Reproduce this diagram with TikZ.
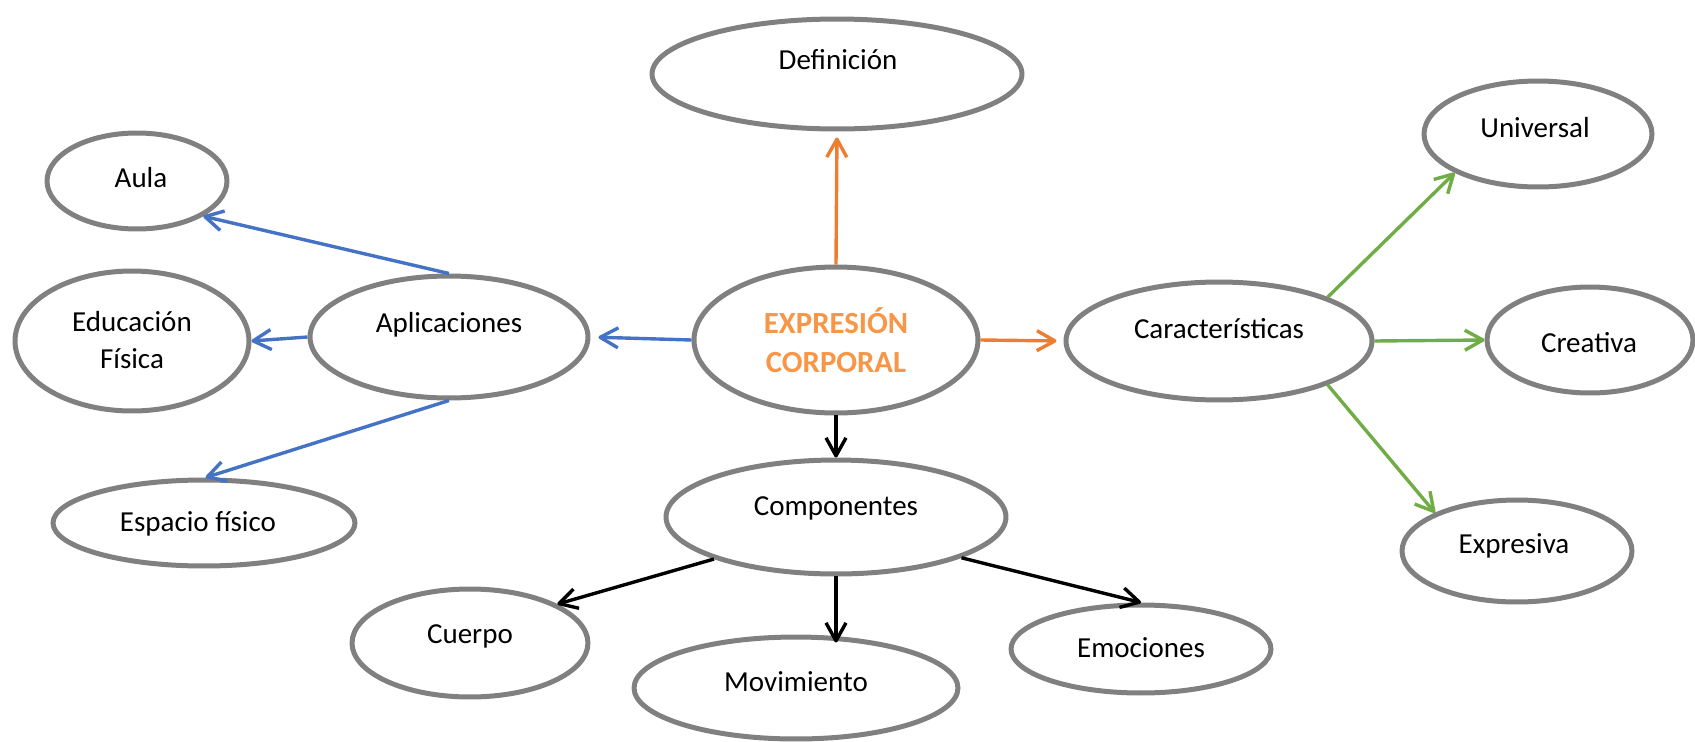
\documentclass[tikz,border=0pt]{standalone}
\usepackage{fontspec}
\setmainfont{Carlito}
\usetikzlibrary{shapes.geometric,arrows.meta}

\definecolor{gris}{HTML}{808080}
\definecolor{azul}{HTML}{4472C4}
\definecolor{naranja}{HTML}{ED7D31}
\definecolor{naranjaclaro}{HTML}{F79646}
\definecolor{verde}{HTML}{70AD47}

\tikzset{
    burbuja/.style={ellipse, draw=gris, line width=0.1cm, fill=white},
    etiqueta/.style={font=\fontsize{16.5}{21}\selectfont, align=center, inner sep=0pt},
    flecha/.style={line width=0.068cm, line join=round,
        -{Straight Barb[length=0.36cm, width=0.4cm, line join=round]}}
}

\begin{document}
\begin{tikzpicture}[x=0.02cm, y=-0.02cm]

    \useasboundingbox (0,0) rectangle (1695,741);

    % Pintamos las elipses
    \node[burbuja, minimum width=5.68cm, minimum height=2.92cm] (ec) at (836,340) {};
    \node[burbuja, minimum width=7.4cm, minimum height=2.2cm] (def) at (837,74) {};
    \node[burbuja, minimum width=5.56cm, minimum height=2.44cm] (apl) at (449,337) {};
    \node[burbuja, minimum width=3.6cm, minimum height=1.92cm] (aula) at (137,181) {};
    \node[burbuja, minimum width=4.68cm, minimum height=2.8cm] (educ) at (132,341) {};
    \node[burbuja, minimum width=6.04cm, minimum height=1.72cm] (esp) at (204,523) {};
    \node[burbuja, minimum width=6.12cm, minimum height=2.36cm] (car) at (1219,341) {};
    \node[burbuja, minimum width=4.56cm, minimum height=2.12cm] (univ) at (1538,134) {};
    \node[burbuja, minimum width=4.12cm, minimum height=2.12cm] (creat) at (1590,340) {};
    \node[burbuja, minimum width=4.6cm, minimum height=2.04cm] (expr) at (1517,551) {};
    \node[burbuja, minimum width=6.8cm, minimum height=2.28cm] (comp) at (836,517) {};
    \node[burbuja, minimum width=4.72cm, minimum height=2.16cm] (cuer) at (470,643) {};
    \node[burbuja, minimum width=6.48cm, minimum height=2.04cm] (mov) at (796,688) {};
    \node[burbuja, minimum width=5.2cm, minimum height=1.76cm] (emoc) at (1141,649) {};

    % Textos
    \node[etiqueta, text=naranjaclaro, font=\fontsize{17.5}{22}\selectfont\bfseries] (ec-t) at (836,340) {EXPRESIÓN\\CORPORAL};
    \node[etiqueta] (def-t) at (838,60) {Definición};
    \node[etiqueta] (apl-t) at (449,325) {Aplicaciones};
    \node[etiqueta] (aula-t) at (141,178) {Aula};
    \node[etiqueta] (educ-t) at (132,340) {Educación\\Física};
    \node[etiqueta] (esp-t) at (198,524) {Espacio físico};
    \node[etiqueta] (car-t) at (1219,329) {Características};
    \node[etiqueta] (univ-t) at (1535,128) {Universal};
    \node[etiqueta] (creat-t) at (1589,343) {Creativa};
    \node[etiqueta] (expr-t) at (1514,546) {Expresiva};
    \node[etiqueta] (comp-t) at (836,508) {Componentes};
    \node[etiqueta] (cuer-t) at (470,636) {Cuerpo};
    \node[etiqueta] (mov-t) at (796,682) {Movimiento};
    \node[etiqueta] (emoc-t) at (1141,648) {Emociones};

    % Flechas naranjas
    \draw[flecha, naranja, shorten >=0.12cm] (ec.north) -- (def.south);
    \draw[flecha, naranja, shorten >=0.14cm] (ec.east) -- (car.west);

    % Flechas azules
    \draw[flecha, azul, shorten >=0.16cm] (ec.west) -- (apl.east);
    \draw[flecha, azul] (apl.north) -- (aula.-28);
    \draw[flecha, azul] (apl.west) -- (educ.east);
    \draw[flecha, azul] (apl.south) -- (esp.88);

    % Flechas verdes
    \draw[flecha, verde] (car.22) -- (univ.205);
    \draw[flecha, verde] (car.east) -- (creat.west);
    \draw[flecha, verde] (car.-22) -- (expr.155);

    % Flechas negras
    \draw[flecha] (ec.south) -- (comp.north);
    \draw[flecha] (comp.199) -- (cuer.24);
    \draw[flecha, shorten >=-0.16cm] (comp.south) -- (comp.south |- mov.north);
    \draw[flecha] (comp.-18) -- (emoc.north);

\end{tikzpicture}
\end{document}
